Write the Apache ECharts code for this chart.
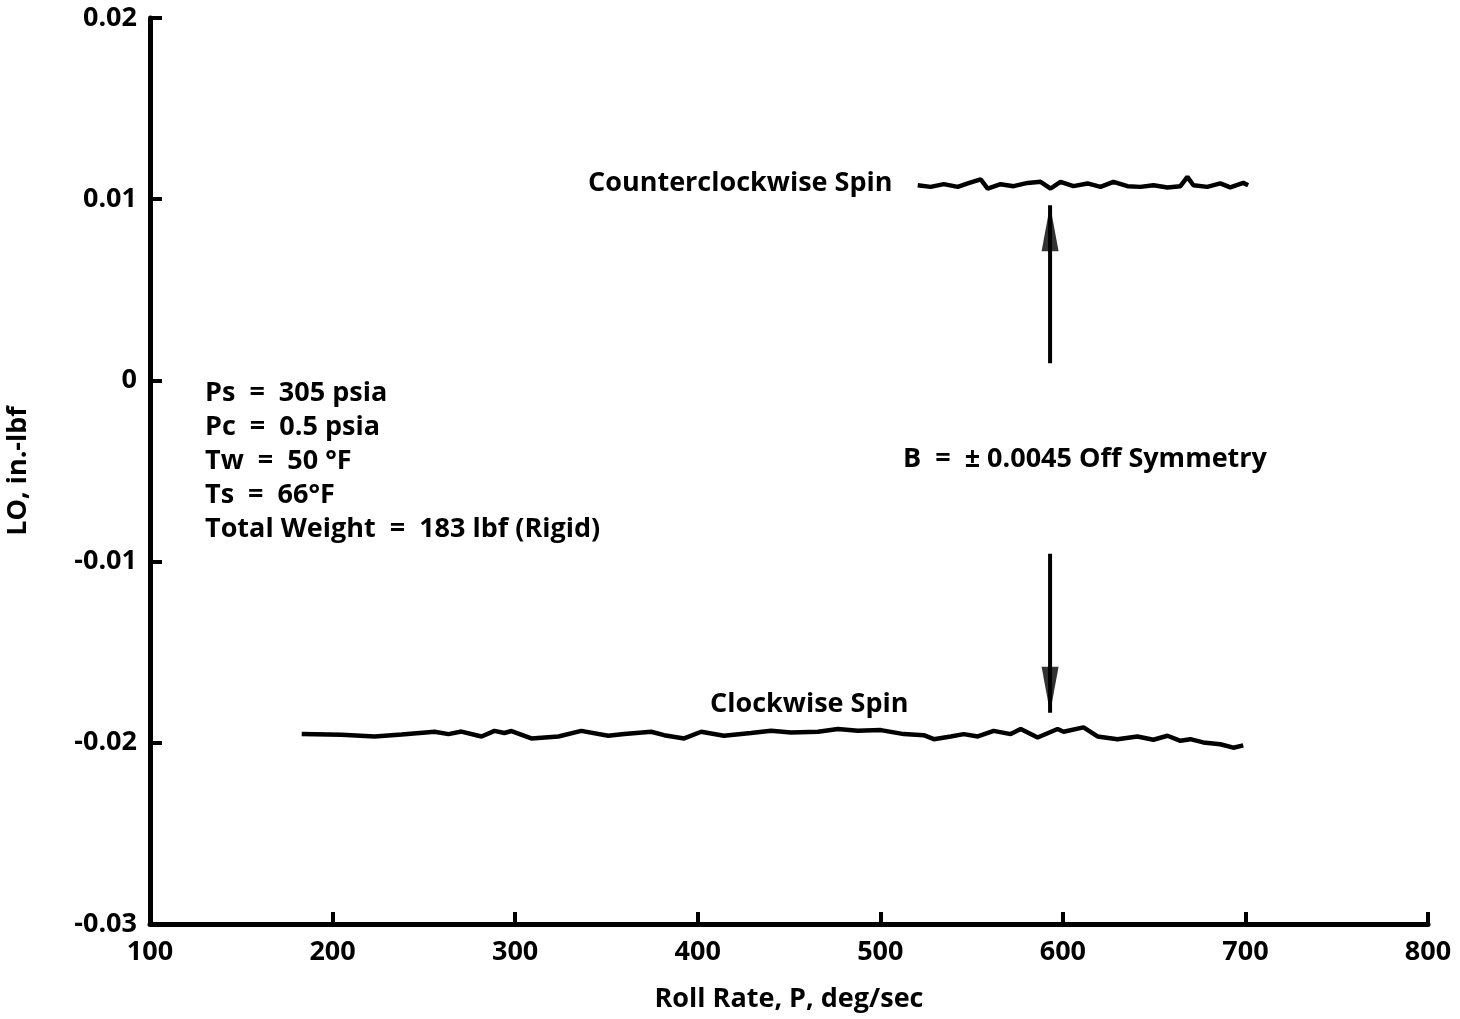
<!DOCTYPE html>
<html>
<head>
<meta charset="utf-8">
<title>LO vs Roll Rate</title>
<script src="https://cdn.jsdelivr.net/npm/echarts@6/dist/echarts.min.js"></script>
<style>
    html, body { margin: 0; padding: 0; background: #fff; }
    #chart { width: 1460px; height: 1019px; }
</style>
</head>
<body>
<div id="chart"></div>
<script>
    // 数据：近似值
    var xTicks = [100, 200, 300, 400, 500, 600, 700, 800];
    var yTicks = [-0.03, -0.02, -0.01, 0, 0.01, 0.02];

    // Clockwise Spin
    var cwRate = [183.1, 205.0, 223.0, 237.8, 255.9, 263.5, 270.6, 281.6, 288.7, 294.1,
        298.0, 308.9, 323.7, 336.2, 351.0, 359.8, 374.5, 381.6, 392.6, 401.9,
        414.4, 429.2, 440.2, 451.1, 465.9, 476.8, 487.7, 500.3, 512.9, 523.8,
        529.3, 538.6, 545.7, 553.4, 562.1, 571.4, 576.9, 586.2, 597.1, 600.4,
        611.3, 619.0, 629.9, 640.8, 649.6, 657.3, 664.4, 669.8, 676.9, 686.2,
        693.4, 698.8];
    var cwLO = [-0.01952, -0.01956, -0.01965, -0.01954, -0.01939, -0.01952, -0.01938, -0.01965, -0.01934, -0.01946,
        -0.01935, -0.01976, -0.01965, -0.01934, -0.01961, -0.01952, -0.01939, -0.01958, -0.01976, -0.01939,
        -0.01961, -0.01946, -0.01934, -0.01943, -0.01939, -0.01924, -0.01934, -0.01930, -0.01952, -0.01958,
        -0.01980, -0.01965, -0.01952, -0.01965, -0.01934, -0.01952, -0.01924, -0.01971, -0.01924, -0.01939,
        -0.01915, -0.01965, -0.01980, -0.01965, -0.01983, -0.01961, -0.01989, -0.01980, -0.01998, -0.02008,
        -0.02027, -0.02014];

    // Counterclockwise Spin
    var ccwRate = [520.5, 527.6, 534.8, 542.4, 547.9, 555.0, 558.8, 565.9, 573.0, 580.7,
        587.8, 593.3, 598.7, 605.8, 613.5, 620.6, 627.7, 635.4, 642.5, 649.6,
        657.3, 664.4, 668.2, 671.5, 679.1, 686.2, 691.7, 698.8, 701.5];
    var ccwLO = [0.01077, 0.01068, 0.01083, 0.01068, 0.01087, 0.01109, 0.01059, 0.01083, 0.01072, 0.01090,
        0.01096, 0.01059, 0.01096, 0.01072, 0.01087, 0.01068, 0.01096, 0.01072, 0.01068, 0.01077,
        0.01065, 0.01072, 0.01123, 0.01077, 0.01068, 0.01087, 0.01065, 0.01090, 0.01077];

    // 偏差箭头 (x 位置, 起点/终点)
    var arrowRate = 593;
    var arrowUp = [0.00094, 0.00967];
    var arrowDown = [-0.00956, -0.01834];

    var testConditions = [
        'Ps  =  305 psia',
        'Pc  =  0.5 psia',
        'Tw  =  50 °F',
        'Ts  =  66°F',
        'Total Weight  =  183 lbf (Rigid)'
    ];

    var FONT = '"Open Sans", "Noto Sans", sans-serif';

    function zip(xs, ys) {
        var out = [];
        for (var i = 0; i < xs.length; i++) { out.push([xs[i], ys[i]]); }
        return out;
    }

    function lineSeries(name, data, width) {
        return {
            name: name,
            type: 'line',
            data: data,
            showSymbol: false,
            silent: true,
            lineStyle: { color: '#000', width: width },
            z: 3
        };
    }

    // 箭头头部：三角形，尖端落在数据点上
    function arrowHead(point, down) {
        return {
            type: 'scatter',
            data: [point],
            symbol: 'triangle',
            symbolSize: [17, 46],
            symbolRotate: down ? 180 : 0,
            symbolOffset: [0, down ? '-50%' : '50%'],
            itemStyle: { color: '#000' },
            silent: true,
            z: 4
        };
    }

    function textItem(text, left, top, size) {
        return {
            type: 'text',
            left: left,
            top: top,
            style: {
                text: text,
                font: 'bold ' + size + 'px ' + FONT,
                fill: '#000'
            }
        };
    }

    var chart = echarts.init(document.getElementById('chart'));

    var graphics = [
        textItem('Counterclockwise Spin', 588, 170, 27),
        textItem('Clockwise Spin', 710, 691, 27),
        textItem('B  =  ± 0.0045 Off Symmetry', 903, 446, 27)
    ];
    for (var i = 0; i < testConditions.length; i++) {
        graphics.push(textItem(testConditions[i], 205, 380 + i * 34, 27));
    }

    var axisFont = { fontFamily: FONT, fontWeight: 'bold', fontSize: 27, color: '#000' };

    var option = {
        animation: false,
        backgroundColor: '#fff',
        grid: { left: 150, right: 32, top: 18, bottom: 95, containLabel: false, outerBoundsMode: 'none' },
        xAxis: {
            type: 'value',
            min: xTicks[0],
            max: xTicks[xTicks.length - 1],
            interval: 100,
            name: 'Roll Rate, P, deg/sec',
            nameLocation: 'middle',
            nameGap: 62,
            nameTextStyle: axisFont,
            axisLine: { onZero: false, lineStyle: { color: '#000', width: 5 } },
            axisTick: { inside: true, length: 12, lineStyle: { color: '#000', width: 4 } },
            axisLabel: { fontFamily: FONT, fontWeight: 'bold', fontSize: 27, color: '#000', margin: 15 },
            splitLine: { show: false }
        },
        yAxis: {
            type: 'value',
            min: yTicks[0],
            max: yTicks[yTicks.length - 1],
            interval: 0.01,
            name: 'LO, in.-lbf',
            nameLocation: 'middle',
            nameGap: 118,
            nameTextStyle: axisFont,
            axisLine: { onZero: false, lineStyle: { color: '#000', width: 5 } },
            axisTick: { inside: true, length: 12, lineStyle: { color: '#000', width: 4 } },
            axisLabel: {
                fontFamily: FONT, fontWeight: 'bold', fontSize: 27, color: '#000', margin: 13,
                formatter: function (v) {
                    var r = Math.round(v * 100) / 100;
                    return r === 0 ? '0' : String(r);
                }
            },
            splitLine: { show: false }
        },
        series: [
            lineSeries('Clockwise Spin', zip(cwRate, cwLO), 4.5),
            lineSeries('Counterclockwise Spin', zip(ccwRate, ccwLO), 4.5),
            lineSeries('arrowUp', zip([arrowRate, arrowRate], arrowUp), 4),
            lineSeries('arrowDown', zip([arrowRate, arrowRate], arrowDown), 4),
            arrowHead([arrowRate, arrowUp[1]], false),
            arrowHead([arrowRate, arrowDown[1]], true)
        ],
        graphic: graphics
    };

    chart.setOption(option);
</script>
</body>
</html>
